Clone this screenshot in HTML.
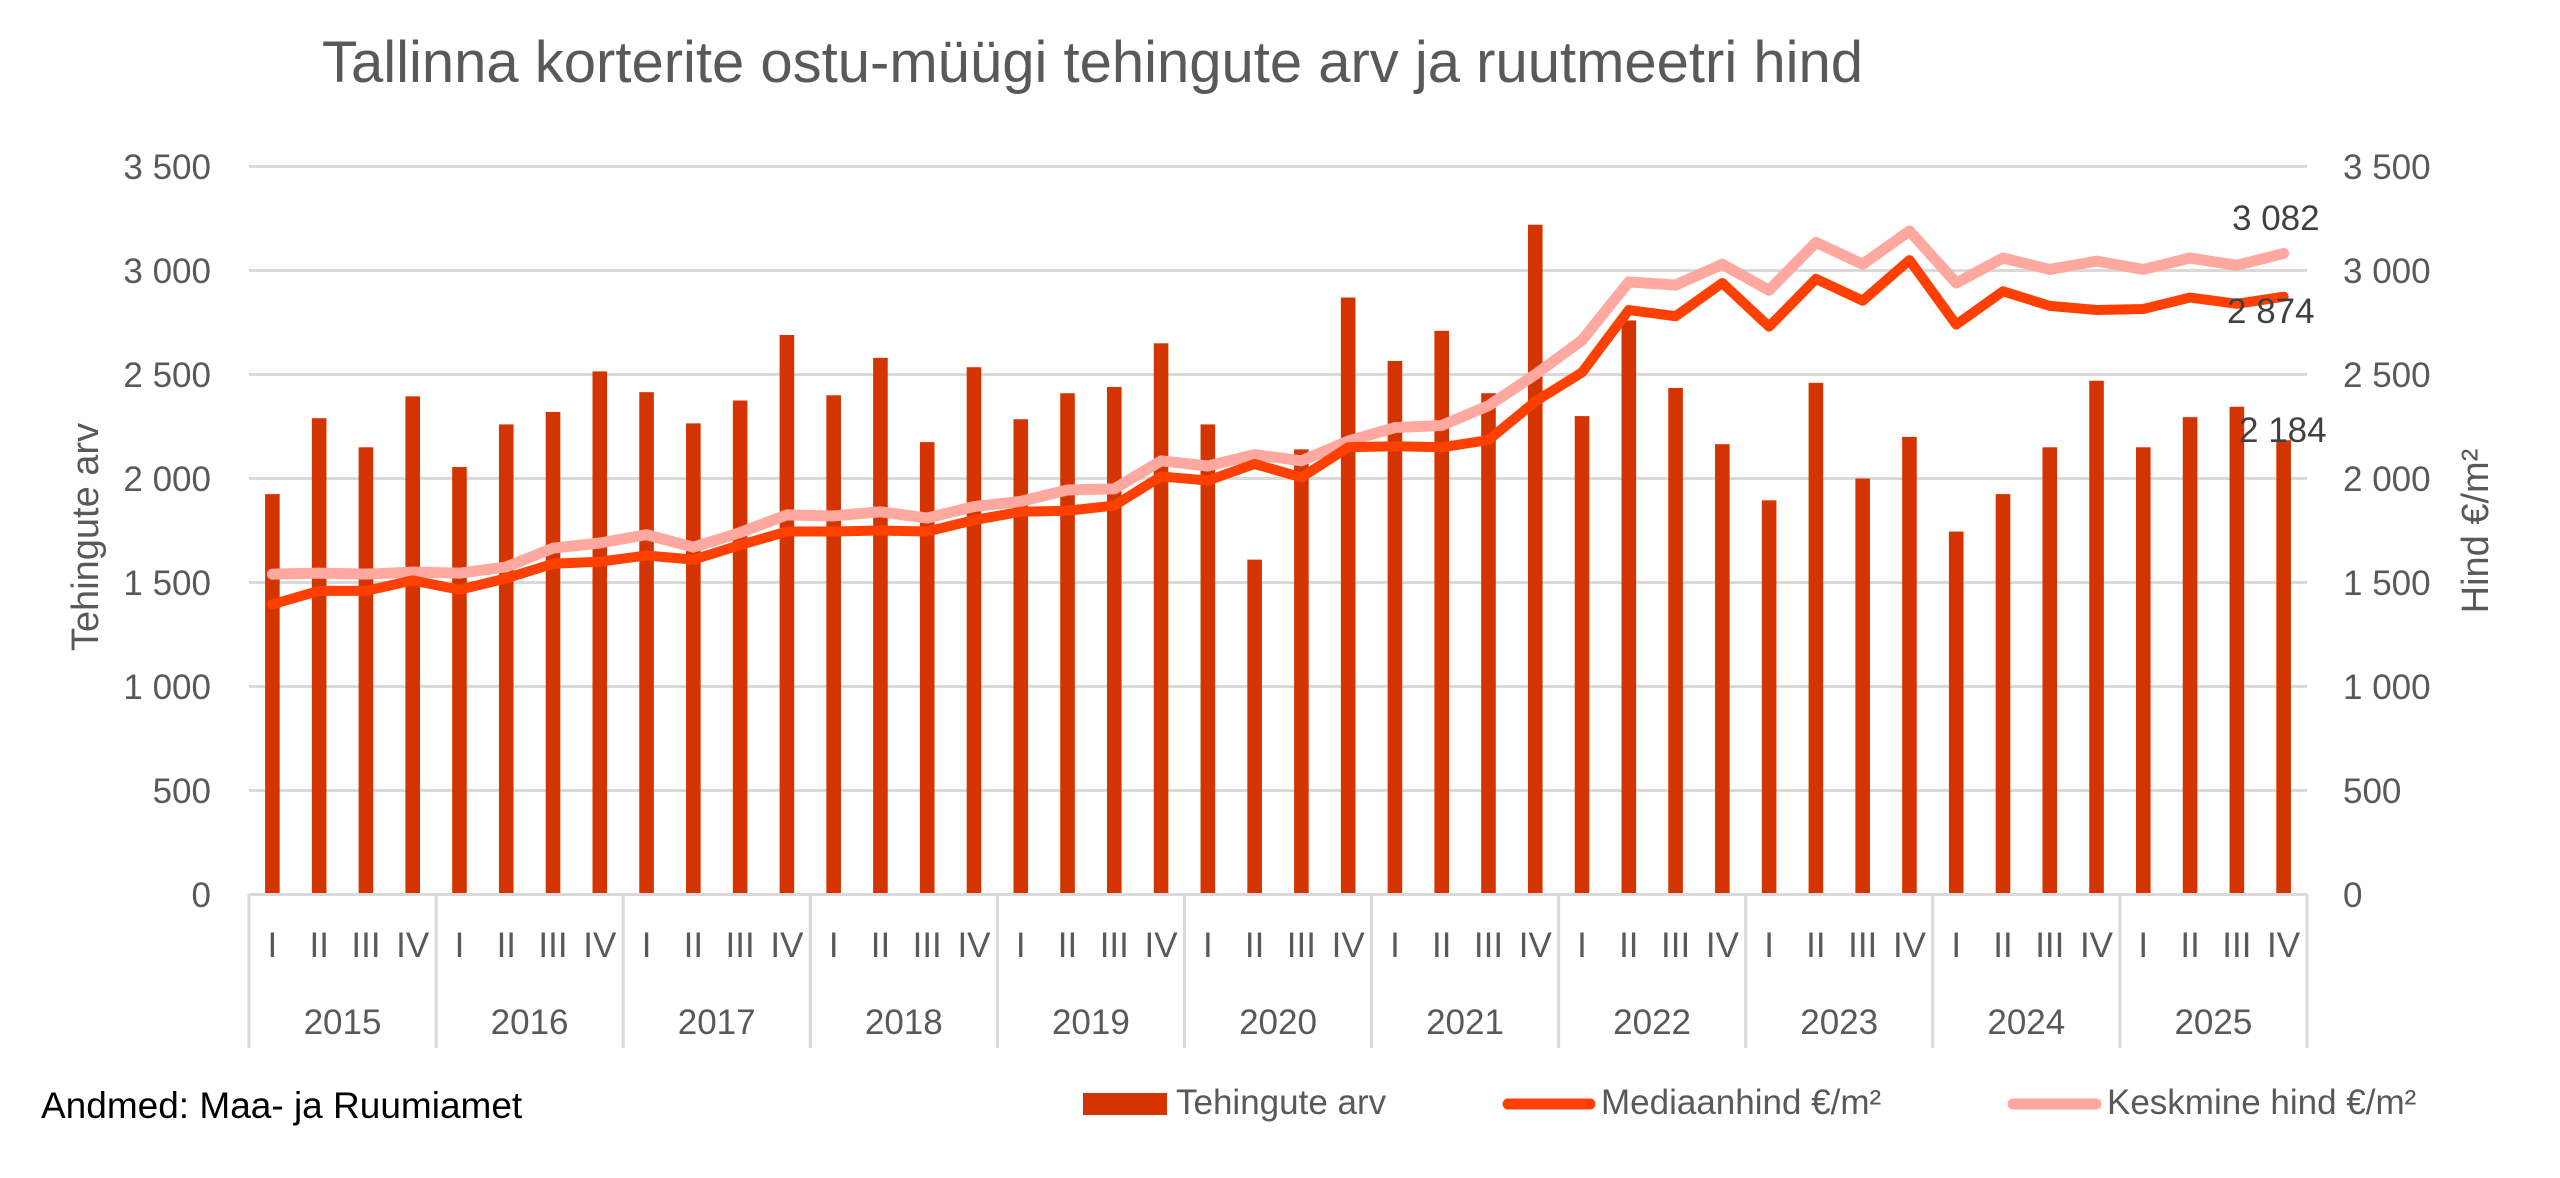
<!DOCTYPE html>
<html><head><meta charset="utf-8">
<style>
html,body{margin:0;padding:0;background:#fff;}
svg{display:block;}
text{font-family:"Liberation Sans",sans-serif;}
</style></head>
<body>
<svg id="c" width="2560" height="1178" viewBox="0 0 2560 1178" xmlns="http://www.w3.org/2000/svg">
<rect width="2560" height="1178" fill="#fff"/>
<text x="322" y="82" font-size="58" fill="#595959">Tallinna korterite ostu-müügi tehingute arv ja ruutmeetri hind</text>
<g id="grid" stroke="#d9d9d9" stroke-width="3">
<line x1="249" x2="2307" y1="166.5" y2="166.5"/>
<line x1="249" x2="2307" y1="270.5" y2="270.5"/>
<line x1="249" x2="2307" y1="374.5" y2="374.5"/>
<line x1="249" x2="2307" y1="478.5" y2="478.5"/>
<line x1="249" x2="2307" y1="582.5" y2="582.5"/>
<line x1="249" x2="2307" y1="686.5" y2="686.5"/>
<line x1="249" x2="2307" y1="790.5" y2="790.5"/>
</g>
<g font-size="35" fill="#595959" text-anchor="end">
<text x="211" y="179">3 500</text><text x="211" y="283">3 000</text><text x="211" y="387">2 500</text>
<text x="211" y="491">2 000</text><text x="211" y="595">1 500</text><text x="211" y="699">1 000</text>
<text x="211" y="803">500</text><text x="211" y="907">0</text>
</g>
<g font-size="35" fill="#595959">
<text x="2343" y="179">3 500</text><text x="2343" y="283">3 000</text><text x="2343" y="387">2 500</text>
<text x="2343" y="491">2 000</text><text x="2343" y="595">1 500</text><text x="2343" y="699">1 000</text>
<text x="2343" y="803">500</text><text x="2343" y="907">0</text>
</g>
<text transform="translate(98,537) rotate(-90)" font-size="38" fill="#595959" text-anchor="middle">Tehingute arv</text>
<text transform="translate(2488,531) rotate(-90)" font-size="38" fill="#595959" text-anchor="middle">Hind €/m²</text>
<g id="bars" fill="#d43500"></g>
<g id="lines"></g>
<g font-size="35" fill="#404040">
<text x="2232" y="230">3 082</text>
<text x="2227" y="323">2 874</text>
<text x="2239" y="442">2 184</text>
</g>
<g stroke="#d9d9d9" stroke-width="3">
<line x1="249" x2="2307" y1="894.5" y2="894.5"/>
<line x1="249" x2="249" y1="894" y2="1048"/><line x1="436.1" x2="436.1" y1="894" y2="1048"/>
<line x1="623.2" x2="623.2" y1="894" y2="1048"/><line x1="810.3" x2="810.3" y1="894" y2="1048"/>
<line x1="997.4" x2="997.4" y1="894" y2="1048"/><line x1="1184.5" x2="1184.5" y1="894" y2="1048"/>
<line x1="1371.5" x2="1371.5" y1="894" y2="1048"/><line x1="1558.6" x2="1558.6" y1="894" y2="1048"/>
<line x1="1745.7" x2="1745.7" y1="894" y2="1048"/><line x1="1932.8" x2="1932.8" y1="894" y2="1048"/>
<line x1="2119.9" x2="2119.9" y1="894" y2="1048"/><line x1="2307" x2="2307" y1="894" y2="1048"/>
</g>
<g font-size="35" fill="#595959" text-anchor="middle">
<text x="272.4" y="957">I</text><text x="319.2" y="957">II</text><text x="366.0" y="957">III</text><text x="412.7" y="957">IV</text>
<text x="459.5" y="957">I</text><text x="506.3" y="957">II</text><text x="553.0" y="957">III</text><text x="599.8" y="957">IV</text>
<text x="646.6" y="957">I</text><text x="693.4" y="957">II</text><text x="740.1" y="957">III</text><text x="786.9" y="957">IV</text>
<text x="833.7" y="957">I</text><text x="880.5" y="957">II</text><text x="927.2" y="957">III</text><text x="974.0" y="957">IV</text>
<text x="1020.8" y="957">I</text><text x="1067.5" y="957">II</text><text x="1114.3" y="957">III</text><text x="1161.1" y="957">IV</text>
<text x="1207.9" y="957">I</text><text x="1254.6" y="957">II</text><text x="1301.4" y="957">III</text><text x="1348.2" y="957">IV</text>
<text x="1395.0" y="957">I</text><text x="1441.7" y="957">II</text><text x="1488.5" y="957">III</text><text x="1535.3" y="957">IV</text>
<text x="1582.0" y="957">I</text><text x="1628.8" y="957">II</text><text x="1675.6" y="957">III</text><text x="1722.4" y="957">IV</text>
<text x="1769.1" y="957">I</text><text x="1815.9" y="957">II</text><text x="1862.7" y="957">III</text><text x="1909.5" y="957">IV</text>
<text x="1956.2" y="957">I</text><text x="2003.0" y="957">II</text><text x="2049.8" y="957">III</text><text x="2096.5" y="957">IV</text>
<text x="2143.3" y="957">I</text><text x="2190.1" y="957">II</text><text x="2236.9" y="957">III</text><text x="2283.6" y="957">IV</text>
<text x="342.5" y="1034">2015</text><text x="529.6" y="1034">2016</text><text x="716.7" y="1034">2017</text>
<text x="903.8" y="1034">2018</text><text x="1090.9" y="1034">2019</text><text x="1278.0" y="1034">2020</text>
<text x="1465.0" y="1034">2021</text><text x="1652.1" y="1034">2022</text><text x="1839.2" y="1034">2023</text>
<text x="2026.3" y="1034">2024</text><text x="2213.4" y="1034">2025</text>
</g>
<text x="41" y="1118" font-size="37" fill="#000">Andmed: Maa- ja Ruumiamet</text>
<rect x="1083" y="1093" width="84" height="22" fill="#d43500"/>
<text x="1176" y="1114" font-size="35" fill="#595959">Tehingute arv</text>
<line x1="1508" x2="1590" y1="1104" y2="1104" stroke="#ff4000" stroke-width="11" stroke-linecap="round"/>
<text x="1601" y="1114" font-size="35" fill="#595959">Mediaanhind €/m²</text>
<line x1="2013" x2="2096" y1="1104" y2="1104" stroke="#ffa8a0" stroke-width="11" stroke-linecap="round"/>
<text x="2107" y="1114" font-size="35" fill="#595959">Keskmine hind €/m²</text>
</svg>
<script>
var bars=[1925,2290,2150,2395,2055,2260,2320,2515,2415,2265,2375,2690,2400,2580,2175,2535,2285,2410,2440,2650,2260,1610,2140,2870,2565,2710,2410,3220,2300,2760,2435,2165,1895,2460,2000,2200,1745,1925,2150,2470,2150,2295,2345,2184];
var med=[1395,1460,1460,1510,1465,1520,1590,1600,1630,1610,1680,1745,1745,1750,1745,1800,1840,1845,1870,2010,1990,2070,2005,2150,2155,2150,2185,2370,2510,2810,2780,2940,2730,2960,2855,3050,2740,2900,2830,2810,2815,2870,2840,2874];
var mean=[1540,1545,1540,1550,1545,1575,1665,1690,1730,1670,1740,1825,1820,1840,1810,1865,1890,1945,1950,2085,2060,2115,2085,2180,2245,2255,2350,2500,2665,2945,2930,3030,2905,3135,3030,3190,2940,3060,3005,3045,3005,3060,3025,3082];
var NS="http://www.w3.org/2000/svg";
function X(i){return 249+46.773*(i+0.5);}
function Y(v){return 894.5-v*0.208;}
var bg=document.getElementById('bars');
bars.forEach(function(v,i){var r=document.createElementNS(NS,'rect');r.setAttribute('x',X(i)-7.3);r.setAttribute('width',14.6);r.setAttribute('y',Y(v));r.setAttribute('height',894.5-Y(v));bg.appendChild(r);});
var lg=document.getElementById('lines');
function line(d,c,w){var p=document.createElementNS(NS,'polyline');p.setAttribute('points',d.map(function(v,i){return X(i)+','+Y(v)}).join(' '));p.setAttribute('fill','none');p.setAttribute('stroke',c);p.setAttribute('stroke-width',w);p.setAttribute('stroke-linejoin','round');p.setAttribute('stroke-linecap','round');lg.appendChild(p);}
line(mean,'#ffa8a0',11);
line(med,'#ff4000',10);
</script>
</body></html>
